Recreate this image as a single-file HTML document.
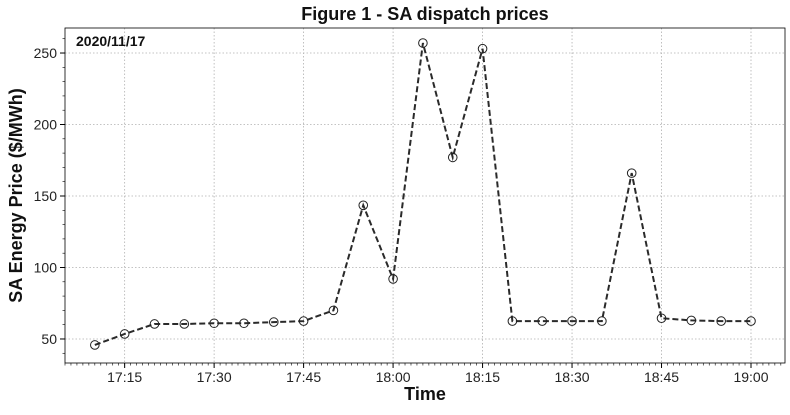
<!DOCTYPE html>
<html><head><meta charset="utf-8"><style>
body{margin:0;background:#fff;}
svg text{font-family:"Liberation Sans",sans-serif;}
</style></head><body>
<svg id="c" width="790" height="410" xmlns="http://www.w3.org/2000/svg"></svg>
<script>
const times=["17:10","17:15","17:20","17:25","17:30","17:35","17:40","17:45","17:50","17:55","18:00","18:05","18:10","18:15","18:20","18:25","18:30","18:35","18:40","18:45","18:50","18:55","19:00"];
const prices=[45.8,53.5,60.5,60.5,61,61,61.8,62.5,70,143.5,92,257,177,253,62.5,62.5,62.5,62.5,166,64.5,63,62.5,62.5];
const xTicks=["17:15","17:30","17:45","18:00","18:15","18:30","18:45","19:00"];
const yTicks=[50,100,150,200,250];
const L=65,R=785,T=28,B=363;
const xMin=17*60+5,xMax=19*60+5.7,yMin=33.2,yMax=267.5;
const toMin=s=>{const[a,b]=s.split(':');return +a*60+ +b;};
const X=m=>L+(m-xMin)/(xMax-xMin)*(R-L);
const Y=v=>B-(v-yMin)/(yMax-yMin)*(B-T);
const svg=document.getElementById('c');
const NS="http://www.w3.org/2000/svg";
function mk(t,a,p){const e=document.createElementNS(NS,t);for(const k in a)e.setAttribute(k,a[k]);(p||svg).appendChild(e);return e;}
// grid
for(const t of xTicks){const x=X(toMin(t));
const g=mk('line',{x1:x,x2:x,y1:T,y2:B,stroke:'#b0b0b0','stroke-dasharray':'1.5,2','stroke-width':0.8});


mk('line',{x1:x,x2:x,y1:B,y2:B+5,stroke:'#000'});
const tx=mk('text',{x:x,y:B+19,'text-anchor':'middle','font-size':14,fill:'#222'});tx.textContent=t;

}
for(let m=xMin;m<=xMax;m++){const x=X(m);mk('line',{x1:x,x2:x,y1:B,y2:B+2.5,stroke:'#000','stroke-width':0.6});}
for(const v of yTicks){const y=Y(v);
const g=mk('line',{x1:L,x2:R,y1:y,y2:y,stroke:'#b0b0b0','stroke-dasharray':'1.5,2','stroke-width':0.8});


mk('line',{x1:L-5,x2:L,y1:y,y2:y,stroke:'#000'});
const tx=mk('text',{x:L-8,y:y+5,'text-anchor':'end','font-size':14,fill:'#222'});tx.textContent=v;

}
for(let v=40;v<=yMax;v+=10){const y=Y(v);mk('line',{x1:L-2.5,x2:L,y1:y,y2:y,stroke:'#000','stroke-width':0.6});}
const frame=mk('rect',{x:L,y:T,width:R-L,height:B-T,fill:'none',stroke:'#000','stroke-width':0.8});


const pts=times.map((t,i)=>[X(toMin(t)),Y(prices[i])]);
const line=mk('polyline',{points:pts.map(p=>p.join(',')).join(' '),fill:'none',stroke:'#2a2a2a','stroke-width':2,'stroke-dasharray':'6,3'});


for(const p of pts){const c=mk('circle',{cx:p[0],cy:p[1],r:4.3,fill:'none',stroke:'#222','stroke-width':1});

}
const ti=mk('text',{x:(L+R)/2,y:20,'text-anchor':'middle','font-size':18,'font-weight':'bold',fill:'#111'});ti.textContent='Figure 1 - SA dispatch prices';


const d=mk('text',{x:76,y:46,'font-size':14,'font-weight':'bold',fill:'#111'});d.textContent='2020/11/17';


const xt=mk('text',{x:(L+R)/2,y:400,'text-anchor':'middle','font-size':18,'font-weight':'bold',fill:'#111'});xt.textContent='Time';


const yt=mk('text',{x:0,y:0,'text-anchor':'middle','font-size':18,'font-weight':'bold',fill:'#111',transform:`translate(22,${(T+B)/2}) rotate(-90)`});yt.textContent='SA Energy Price ($/MWh)';


</script>
</body></html>
